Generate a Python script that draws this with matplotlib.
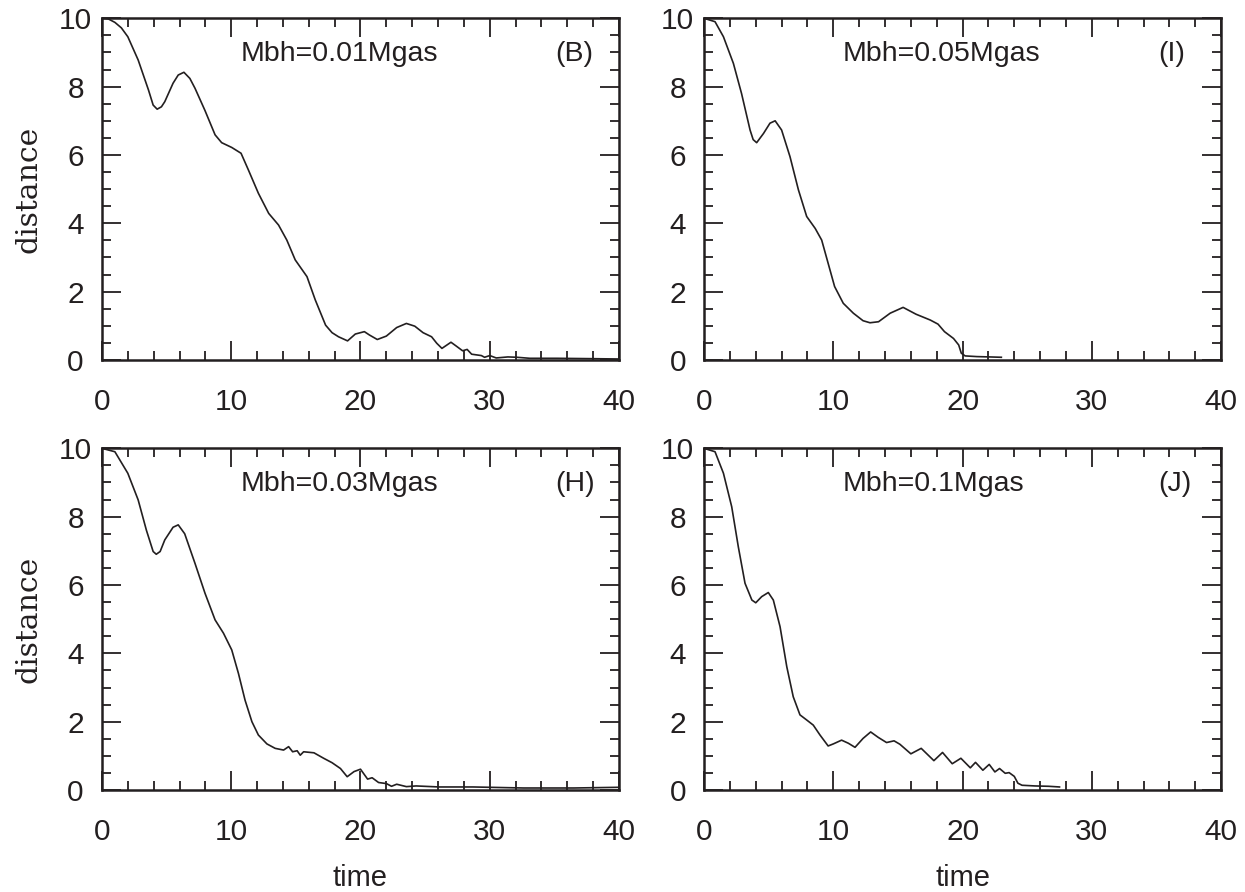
import matplotlib.pyplot as plt
from matplotlib.ticker import MultipleLocator

plt.rcParams['font.family'] = 'Liberation Sans'
INK = '#231f20'

# (B) Mbh=0.01Mgas
t_b = [0, 0.5, 1.0, 1.5, 2.0, 2.8, 3.6, 3.96, 4.27, 4.6, 4.86, 5.5, 5.9, 6.34, 6.8, 7.2, 7.97,
       8.75, 9.26, 10.04, 10.76, 11.33, 12.1, 12.9, 13.66, 14.3, 14.95, 15.86, 16.5, 17.3, 17.8,
       18.3, 19.0, 19.6, 20.3, 20.7, 21.3, 22.0, 22.8, 23.55, 24.2, 24.84, 25.5, 25.9, 26.3,
       27.0, 27.4, 27.9, 28.25, 28.6, 29.35, 29.6, 30.0, 30.5, 31.4, 32.1, 33.1, 35.2, 37.7, 40.0]
d_b = [10, 9.98, 9.88, 9.72, 9.46, 8.78, 7.9, 7.46, 7.34, 7.41, 7.56, 8.1, 8.34, 8.42, 8.24, 7.95, 7.3,
       6.59, 6.36, 6.22, 6.05, 5.56, 4.88, 4.29, 3.95, 3.51, 2.93, 2.44, 1.76, 1.02, 0.80,
       0.68, 0.56, 0.76, 0.83, 0.73, 0.60, 0.70, 0.95, 1.07, 0.99, 0.80, 0.68, 0.49, 0.34,
       0.52, 0.41, 0.27, 0.31, 0.17, 0.13, 0.08, 0.13, 0.06, 0.09, 0.08, 0.05, 0.05, 0.04, 0.03]

# (I) Mbh=0.05Mgas
t_i = [0, 0.85, 1.5, 2.27, 2.9, 3.56, 3.8, 4.07, 4.6, 5.1, 5.5, 6.0, 6.65, 7.3, 7.94, 8.6, 9.1,
       9.6, 10.1, 10.77, 11.55, 12.3, 12.84, 13.5, 14.4, 15.4, 16.4, 17.5, 18.1, 18.6, 19.3,
       19.7, 19.9, 20.2, 21.1, 22.1, 23.0]
d_i = [10, 9.9, 9.46, 8.68, 7.8, 6.73, 6.45, 6.36, 6.63, 6.93, 7.0, 6.73, 5.95, 4.98, 4.2, 3.85, 3.51,
       2.83, 2.15, 1.66, 1.37, 1.15, 1.09, 1.12, 1.37, 1.54, 1.34, 1.17, 1.05, 0.83, 0.63,
       0.44, 0.2, 0.12, 0.1, 0.09, 0.08]

# (H) Mbh=0.03Mgas
t_h = [0, 1.0, 2.0, 2.8, 3.44, 3.96, 4.2, 4.5, 4.86, 5.5, 5.9, 6.4, 7.2, 7.97, 8.75, 9.4, 10.04,
       10.56, 11.07, 11.6, 12.1, 12.76, 13.4, 14.05, 14.44, 14.75, 15.1, 15.34, 15.6, 16.4,
       17.15, 17.8, 18.45, 18.97, 19.5, 20.0, 20.55, 20.9, 21.4, 22.0, 22.4, 22.8, 23.55, 24.3,
       26.1, 28.7, 32.6, 36.5, 40.0]
d_h = [10, 9.9, 9.27, 8.49, 7.6, 6.98, 6.9, 6.98, 7.32, 7.69, 7.76, 7.5, 6.63, 5.76, 4.98, 4.59, 4.1,
       3.41, 2.63, 2.0, 1.61, 1.35, 1.22, 1.17, 1.27, 1.12, 1.15, 1.02, 1.12, 1.09,
       0.93, 0.8, 0.63, 0.39, 0.54, 0.61, 0.32, 0.36, 0.22, 0.19, 0.11, 0.17, 0.10, 0.12,
       0.09, 0.09, 0.06, 0.06, 0.08]

# (J) Mbh=0.1Mgas
t_j = [0, 0.85, 1.5, 2.14, 2.65, 3.17, 3.7, 4.0, 4.46, 4.97, 5.36, 5.88, 6.4, 6.9, 7.42, 7.94, 8.45,
       8.97, 9.6, 10.0, 10.64, 11.16, 11.68, 12.3, 12.89, 13.48, 14.12, 14.7, 15.15, 16.0, 16.8,
       17.78, 18.45, 19.2, 19.87, 20.6, 21.0, 21.57, 22.06, 22.5, 22.86, 23.3, 23.6, 24.0,
       24.28, 24.6, 25.6, 26.65, 27.5]
d_j = [10, 9.9, 9.27, 8.29, 7.12, 6.05, 5.56, 5.48, 5.66, 5.78, 5.56, 4.78, 3.61, 2.73, 2.2, 2.05, 1.9,
       1.61, 1.29, 1.35, 1.46, 1.37, 1.25, 1.51, 1.70, 1.54, 1.39, 1.44, 1.34, 1.06, 1.22,
       0.86, 1.10, 0.77, 0.93, 0.65, 0.81, 0.58, 0.75, 0.53, 0.63, 0.49, 0.51, 0.40,
       0.20, 0.14, 0.12, 0.11, 0.09]

panels = [
    ([0.0819, 0.5964, 0.4153, 0.3831], t_b, d_b, 'Mbh=0.01Mgas', '(B)', True, False),
    ([0.5655, 0.5964, 0.4153, 0.3831], t_i, d_i, 'Mbh=0.05Mgas', '(I)', False, False),
    ([0.0819, 0.1143, 0.4153, 0.3831], t_h, d_h, 'Mbh=0.03Mgas', '(H)', True, True),
    ([0.5655, 0.1143, 0.4153, 0.3831], t_j, d_j, 'Mbh=0.1Mgas', '(J)', False, True),
]

fig = plt.figure(figsize=(12.45, 8.92), dpi=100)

for pos, t, d, txt, tag, ylab, xlab in panels:
    ax = fig.add_axes(pos)
    ax.plot(t, d, color=INK, lw=1.2)
    ax.set_xlim(0, 40)
    ax.set_ylim(0, 10)
    ax.set_xticks([0, 10, 20, 30, 40])
    ax.set_yticks([0, 2, 4, 6, 8, 10])
    ax.xaxis.set_minor_locator(MultipleLocator(2))
    ax.yaxis.set_minor_locator(MultipleLocator(0.5))
    ax.tick_params(which='both', direction='in', top=True, right=True, color=INK, width=1.3)
    ax.tick_params(which='major', length=14)
    ax.tick_params(which='minor', length=6.5)
    ax.tick_params(axis='x', which='major', pad=20, labelsize=21.5, labelcolor=INK)
    ax.tick_params(axis='y', which='major', pad=19, labelsize=21.5, labelcolor=INK)
    for lab in ax.get_yticklabels():
        lab.set_horizontalalignment('center')
    for sp in ax.spines.values():
        sp.set_linewidth(1.8)
        sp.set_color(INK)
    ax.text(10.75, 8.75, txt, fontsize=20.5, color=INK, va='baseline')
    ax.text(35.1, 8.75, tag, fontsize=20.5, color=INK, va='baseline')
    if ylab:
        ax.set_ylabel('distance', family='DejaVu Serif', fontsize=21.5, color=INK)
        ax.yaxis.set_label_coords(-0.115, 0.5)
    if xlab:
        ax.set_xlabel('time', fontsize=21, color=INK, va='top')
        ax.xaxis.set_label_coords(0.5, -0.215)

fig.savefig('out.png', dpi=100)
